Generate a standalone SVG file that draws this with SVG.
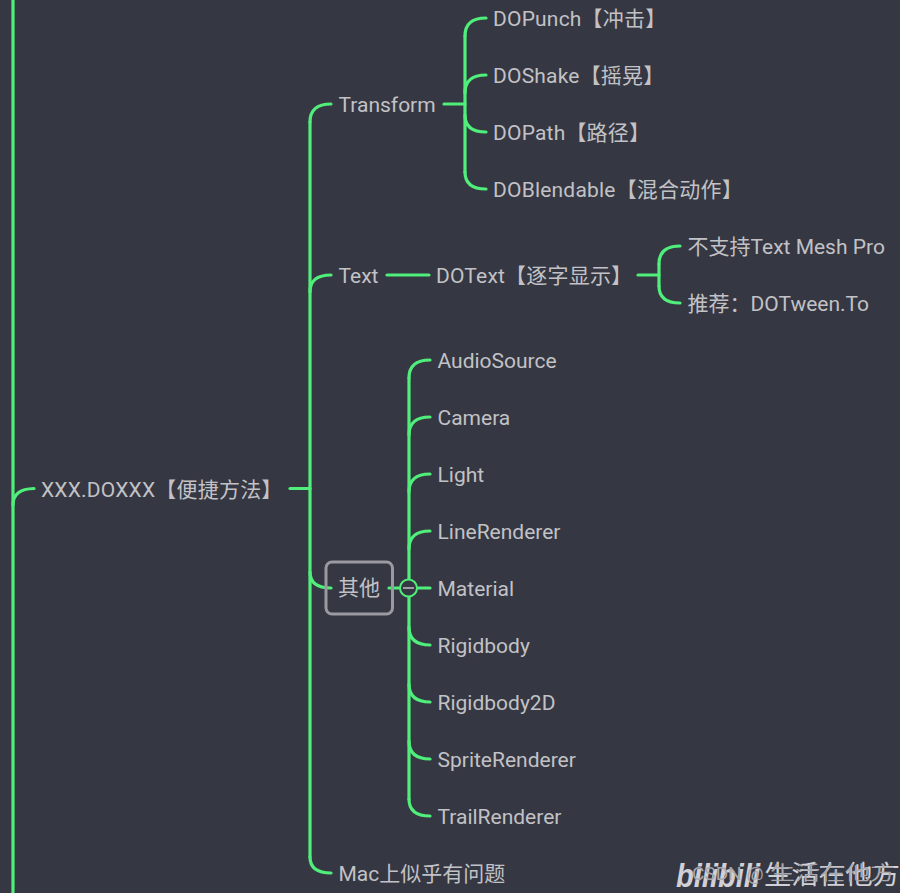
<svg xmlns="http://www.w3.org/2000/svg" width="900" height="893" viewBox="0 0 900 893">
<style>
.c{fill:none;stroke:#50ee7a;stroke-width:3.2;stroke-linecap:round}
text{font-family:Roboto,"Noto Sans CJK SC",sans-serif;font-size:21px;fill:#c2c2c6;dominant-baseline:central}
.b{letter-spacing:.2px}
.w{fill:#d0d0d6;font-size:26px}
.s{fill:#a8a8ae;font-size:19px}
</style>
<rect width="900" height="893" fill="#353742"/>
<g id="connectors">
<path class="c" d="M13 0V893"/>
<path class="c" d="M13 505Q13 489 34 488.500"/>
<path class="c" d="M290 488.500H310"/>
<path class="c" d="M310 122Q310 104 331 104"/>
<path class="c" d="M310 122V857"/>
<path class="c" d="M310 292Q310 275 331 275"/>
<path class="c" d="M310 572Q310 588 331 588"/>
<path class="c" d="M310 857Q310 873 331 873"/>
<path class="c" d="M444 104H465"/>
<path class="c" d="M465 36Q465 18 486 18"/>
<path class="c" d="M465 36V172"/>
<path class="c" d="M465 93Q465 75 486 75"/>
<path class="c" d="M465 115Q465 132 486 132"/>
<path class="c" d="M465 172Q465 189 486 189"/>
<path class="c" d="M387 275H429"/>
<path class="c" d="M638 275H659"/>
<path class="c" d="M659 264Q659 246 680 246"/>
<path class="c" d="M659 264V286"/>
<path class="c" d="M659 286Q659 303 680 303"/>
<path class="c" d="M389 588H399"/>
<path class="c" d="M409 378V799"/>
<path class="c" d="M409 378Q409 360 430 360"/>
<path class="c" d="M409 435Q409 417 430 417"/>
<path class="c" d="M409 492Q409 474 430 474"/>
<path class="c" d="M409 549Q409 531 430 531"/>
<path class="c" d="M418 588H430"/>
<path class="c" d="M409 627Q409 645 430 645"/>
<path class="c" d="M409 684Q409 702 430 702"/>
<path class="c" d="M409 741Q409 759 430 759"/>
<path class="c" d="M409 799Q409 816 430 816"/>
</g>
<g id="root"><text class="b" x="41" y="489.500">XXX.DOXXX【便捷方法】</text></g>
<g id="transform"><text x="338.500" y="105">Transform</text></g>
<g id="text-node"><text x="338.500" y="276">Text</text></g>
<g id="other">
<rect x="326" y="562" width="66.500" height="52" rx="6" fill="none" stroke="#9a9aa0" stroke-width="3"/>
<text x="338" y="588">其他</text>
</g>
<g id="collapse">
<circle cx="408.500" cy="588" r="8.500" fill="#353742" stroke="#50ee7a" stroke-width="2"/>
<path d="M403 588H414" stroke="#c2c2c6" stroke-width="1.500"/>
</g>
<g id="mac"><text x="338.500" y="874">Mac上似乎有问题</text></g>
<g id="dopunch"><text class="b" x="493" y="19">DOPunch【冲击】</text></g>
<g id="doshake"><text class="b" x="493" y="76">DOShake【摇晃】</text></g>
<g id="dopath"><text class="b" x="493" y="133">DOPath【路径】</text></g>
<g id="doblendable"><text class="b" x="493" y="190">DOBlendable【混合动作】</text></g>
<g id="dotext"><text class="b" x="436" y="276">DOText【逐字显示】</text></g>
<g id="no-tmp"><text x="687.500" y="247">不支持Text Mesh Pro</text></g>
<g id="tween"><text x="687.500" y="304">推荐：DOTween.To</text></g>
<g id="audiosource"><text x="437.500" y="361">AudioSource</text></g>
<g id="camera"><text x="437.500" y="418">Camera</text></g>
<g id="light"><text x="437.500" y="475">Light</text></g>
<g id="linerenderer"><text x="437.500" y="532">LineRenderer</text></g>
<g id="material"><text x="437.500" y="589">Material</text></g>
<g id="rigidbody"><text x="437.500" y="646">Rigidbody</text></g>
<g id="rigidbody2d"><text x="437.500" y="703">Rigidbody2D</text></g>
<g id="spriterenderer"><text x="437.500" y="760">SpriteRenderer</text></g>
<g id="trailrenderer"><text x="437.500" y="817">TrailRenderer</text></g>
<g id="watermark">
<text x="676" y="875" style="font-family:'Liberation Sans',sans-serif;font-weight:bold;font-style:italic;font-size:34px;fill:#d0d0d6" textLength="84" lengthAdjust="spacingAndGlyphs">bilibili</text>
<text class="s" x="692" y="873">CSDN @</text>
<text class="w" x="764" y="875" textLength="136" lengthAdjust="spacingAndGlyphs">生活在他方</text>
<text class="s" x="770" y="873" textLength="125" lengthAdjust="spacingAndGlyphs">生活在他方</text>
</g>
</svg>
